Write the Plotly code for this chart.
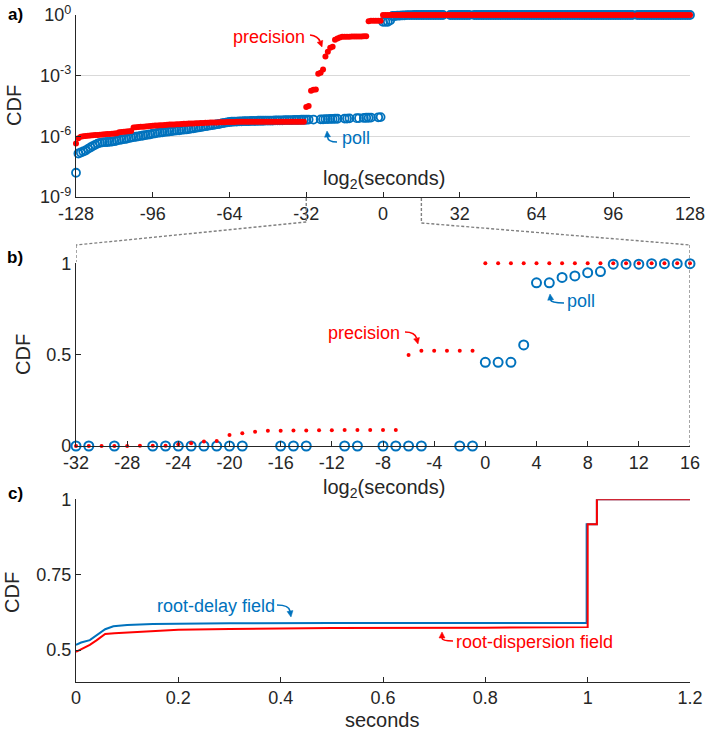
import plotly.graph_objects as go

# ---- panels a/b: CDF of log2(seconds), stored as log10(CDF) ----
poll_exp = [
    -128, -127, -126, -125, -124, -123, -122, -121, -120, -119, -118, -117, -116, -115, -114, -113,
    -112, -111, -110, -109, -108, -107, -106, -105, -104, -103, -102, -101, -100, -99, -98, -97,
    -96, -95, -94, -93, -92, -91, -90, -89, -88, -87, -86, -85, -84, -83, -82, -81,
    -80, -79, -78, -77, -76, -75, -74, -73, -72, -71, -70, -69, -68, -67, -66, -65,
    -64, -63, -62, -61, -60, -59, -58, -57, -56, -55, -54, -53, -52, -51, -50, -49,
    -48, -47, -46, -45, -44, -43, -42, -41, -40, -39, -38, -37, -36, -35, -34, -33,
    -32, -31, -29, -26, -25, -24, -23, -22, -21, -20, -19, -16, -15, -14, -11, -10,
    -8, -7, -6, -5, -2, -1,
    0, 1, 2, 3, 4, 5, 6, 7, 8, 9, 10, 11, 12, 13, 14, 15, 16,
    17, 18, 19, 20, 21, 22, 23, 24, 25, 28, 29, 30, 31, 32, 33, 34,
    35, 36, 38, 39, 40, 41, 42, 43, 44, 45, 46, 47, 48, 49, 50, 51,
    52, 53, 54, 55, 56, 57, 58, 59, 60, 61, 62, 63, 64, 65, 66, 67,
    68, 69, 70, 71, 72, 73, 74, 75, 76, 77, 78, 79, 80, 81, 82, 83,
    84, 85, 86, 87, 88, 89, 90, 91, 92, 93, 94, 95, 96, 97, 98, 99,
    100, 101, 102, 103, 104, 106, 107, 108, 109, 110, 111, 112, 113, 114, 115, 116,
    117, 118, 119, 120, 121, 122, 123, 124, 125, 126, 127, 128,
]
poll_log10 = [
    -7.80, -6.85, -6.80, -6.75, -6.70, -6.62, -6.55, -6.48, -6.42, -6.36, -6.32, -6.30, -6.29, -6.28, -6.27, -6.26,
    -6.24, -6.21, -6.18, -6.16, -6.14, -6.12, -6.09, -6.06, -6.04, -6.02, -6.00, -5.98, -5.96, -5.94, -5.92, -5.90,
    -5.87, -5.85, -5.83, -5.81, -5.80, -5.78, -5.77, -5.75, -5.74, -5.72, -5.71, -5.70, -5.68, -5.67, -5.66, -5.64,
    -5.62, -5.60, -5.58, -5.56, -5.54, -5.52, -5.50, -5.48, -5.46, -5.44, -5.42, -5.40, -5.38, -5.35, -5.33, -5.31,
    -5.29, -5.28, -5.27, -5.27, -5.26, -5.26, -5.25, -5.25, -5.25, -5.24, -5.24, -5.24, -5.23, -5.23, -5.23, -5.22,
    -5.22, -5.22, -5.22, -5.21, -5.21, -5.21, -5.21, -5.20, -5.20, -5.20, -5.20, -5.19, -5.19, -5.19, -5.18, -5.18,
    -5.18, -5.17, -5.17, -5.16, -5.16, -5.15, -5.15, -5.14, -5.14, -5.13, -5.13, -5.12, -5.12, -5.11, -5.10, -5.10,
    -5.09, -5.08, -5.08, -5.07, -5.06, -5.05,
    -0.339, -0.339, -0.339, -0.257, -0.049, -0.049, -0.035, -0.031, -0.023, -0.020, -0.002, -0.002, -0.002, -0.001, -0.001, -0.001, -0.001,
    0, 0, 0, 0, 0, 0, 0, 0, 0, 0, 0, 0, 0, 0, 0, 0,
    0, 0, 0, 0, 0, 0, 0, 0, 0, 0, 0, 0, 0, 0, 0, 0,
    0, 0, 0, 0, 0, 0, 0, 0, 0, 0, 0, 0, 0, 0, 0, 0,
    0, 0, 0, 0, 0, 0, 0, 0, 0, 0, 0, 0, 0, 0, 0, 0,
    0, 0, 0, 0, 0, 0, 0, 0, 0, 0, 0, 0, 0, 0, 0, 0,
    0, 0, 0, 0, 0, 0, 0, 0, 0, 0, 0, 0, 0, 0, 0, 0,
    0, 0, 0, 0, 0, 0, 0, 0, 0, 0, 0, 0,
]

prec_exp = [
    -128, -127, -126, -125, -124, -123, -122, -121, -120, -119, -118, -117, -116, -115, -114, -113,
    -112, -111, -110, -109, -108, -107, -106, -105, -104, -103, -102, -101, -100, -99, -98, -97,
    -96, -95, -94, -93, -92, -91, -90, -89, -88, -87, -86, -85, -84, -83, -82, -81,
    -80, -79, -78, -77, -76, -75, -74, -73, -72, -71, -70, -69, -68, -67, -66, -65,
    -64, -63, -62, -61, -60, -59, -58, -57, -56, -55, -54, -53, -52, -51, -50, -49,
    -48, -47, -46, -45, -44, -43, -42, -41, -40, -39, -38, -37, -36, -35, -34, -33,
    -32, -31, -30, -29, -28, -27, -26, -25, -24, -23, -22, -21, -20, -19, -18, -17,
    -16, -15, -14, -13, -12, -11, -10, -9, -8, -7, -6, -5, -4, -3, -2, -1,
    0, 1, 2, 3, 4, 5, 6, 7, 8, 9, 10, 11, 12, 13, 14, 15,
    16, 17, 18, 19, 20, 21, 22, 23, 24, 25, 26, 27, 28, 29, 30, 31,
    32, 33, 34, 35, 36, 37, 38, 39, 40, 41, 42, 43, 44, 45, 46, 47,
    48, 49, 50, 51, 52, 53, 54, 55, 56, 57, 58, 59, 60, 61, 62, 63,
    64, 65, 66, 67, 68, 69, 70, 71, 72, 73, 74, 75, 76, 77, 78, 79,
    80, 81, 82, 83, 84, 85, 86, 87, 88, 89, 90, 91, 92, 93, 94, 95,
    96, 97, 98, 99, 100, 101, 102, 103, 104, 106, 107, 108, 109, 110, 111, 112,
    113, 114, 115, 116, 117, 118, 119, 120, 121, 122, 123, 124, 125, 126, 127, 128,
]
prec_log10 = [
    -6.35, -6.10, -6.02, -6.00, -5.98, -5.97, -5.96, -5.95, -5.94, -5.93, -5.92, -5.91, -5.90, -5.89, -5.88, -5.87,
    -5.86, -5.85, -5.80, -5.78, -5.77, -5.76, -5.75, -5.74, -5.56, -5.55, -5.54, -5.53, -5.52, -5.51, -5.50, -5.49,
    -5.48, -5.47, -5.46, -5.45, -5.45, -5.44, -5.43, -5.42, -5.42, -5.41, -5.40, -5.40, -5.39, -5.38, -5.38, -5.37,
    -5.36, -5.36, -5.35, -5.35, -5.34, -5.34, -5.33, -5.33, -5.32, -5.32, -5.31, -5.31, -5.30, -5.30, -5.30, -5.29,
    -5.29, -5.29, -5.29, -5.28, -5.28, -5.28, -5.28, -5.28, -5.28, -5.28, -5.28, -5.28, -5.28, -5.28, -5.28, -5.28,
    -5.28, -5.28, -5.28, -5.28, -5.28, -5.28, -5.28, -5.28, -5.28, -5.28, -5.28, -5.28, -5.28, -5.28, -5.28, -5.28,
    -4.55, -4.50, -3.75, -3.70, -3.68, -2.90, -2.85, -2.70, -2.05, -1.82, -1.62, -1.57, -1.22, -1.16, -1.11, -1.08,
    -1.075, -1.07, -1.07, -1.065, -1.065, -1.06, -1.06, -1.06, -1.055, -1.055, -0.303, -0.283, -0.283, -0.283, -0.283, -0.283,
    0, 0, 0, 0, 0, 0, 0, 0, 0, 0, 0, 0, 0, 0, 0, 0,
    0, 0, 0, 0, 0, 0, 0, 0, 0, 0, 0, 0, 0, 0, 0, 0,
    0, 0, 0, 0, 0, 0, 0, 0, 0, 0, 0, 0, 0, 0, 0, 0,
    0, 0, 0, 0, 0, 0, 0, 0, 0, 0, 0, 0, 0, 0, 0, 0,
    0, 0, 0, 0, 0, 0, 0, 0, 0, 0, 0, 0, 0, 0, 0, 0,
    0, 0, 0, 0, 0, 0, 0, 0, 0, 0, 0, 0, 0, 0, 0, 0,
    0, 0, 0, 0, 0, 0, 0, 0, 0, 0, 0, 0, 0, 0, 0, 0,
    0, 0, 0, 0, 0, 0, 0, 0, 0, 0, 0, 0, 0, 0, 0, 0,
]
assert len(poll_exp) == len(poll_log10)
assert len(prec_exp) == len(prec_log10)

# ---- panel c: CDF of root-delay / root-dispersion (seconds) ----
delay_s = [0, 0.01, 0.027, 0.04, 0.057, 0.073, 0.1, 0.15, 0.2, 0.3, 0.5, 0.7, 0.998, 0.998, 1.018, 1.018, 1.2]
delay_cdf = [0.517, 0.525, 0.533, 0.548, 0.569, 0.579, 0.583, 0.586, 0.587, 0.589, 0.590, 0.590, 0.590, 0.917, 0.917, 1.0, 1.0]
disp_s = [0, 0.01, 0.027, 0.04, 0.057, 0.075, 0.1, 0.15, 0.2, 0.3, 0.5, 0.8, 0.96, 1.0, 1.0, 1.018, 1.018, 1.2]
disp_cdf = [0.494, 0.503, 0.517, 0.532, 0.553, 0.556, 0.558, 0.563, 0.567, 0.570, 0.573, 0.574, 0.575, 0.576, 0.917, 0.917, 1.0, 1.0]

a_ticks = [-128, -96, -64, -32, 0, 32, 64, 96, 128]
b_ticks = [-32, -28, -24, -20, -16, -12, -8, -4, 0, 4, 8, 12, 16]
c_ticks = [0, 0.2, 0.4, 0.6, 0.8, 1.0, 1.2]

W, H = 710, 733
BLUE = "#0072BD"
RED = "#FF0000"
AX = "#262626"
FONT = "Liberation Sans, Arial, sans-serif"


def px(x):
    return x / W


def py(y):
    return 1 - y / H


XDOM = [px(76), px(690)]

fig = go.Figure()

# panel a
fig.add_trace(go.Scatter(x=poll_exp, y=[10 ** v for v in poll_log10], mode="markers",
                         marker=dict(symbol="circle-open", size=8, color=BLUE, line=dict(width=1.8)),
                         xaxis="x", yaxis="y", cliponaxis=False, showlegend=False))
fig.add_trace(go.Scatter(x=prec_exp, y=[10 ** v for v in prec_log10], mode="markers",
                         marker=dict(symbol="circle", size=6, color=RED),
                         xaxis="x", yaxis="y", cliponaxis=False, showlegend=False))

# panel b (zoom of a, linear)
b_poll = [(e, 10 ** v) for e, v in zip(poll_exp, poll_log10) if -32 <= e <= 16]
b_prec = [(e, 10 ** v) for e, v in zip(prec_exp, prec_log10) if -32 <= e <= 16]
fig.add_trace(go.Scatter(x=[p[0] for p in b_poll], y=[p[1] for p in b_poll], mode="markers",
                         marker=dict(symbol="circle-open", size=9, color=BLUE, line=dict(width=2)),
                         xaxis="x2", yaxis="y2", cliponaxis=False, showlegend=False))
fig.add_trace(go.Scatter(x=[p[0] for p in b_prec], y=[p[1] for p in b_prec], mode="markers",
                         marker=dict(symbol="circle", size=4, color=RED),
                         xaxis="x2", yaxis="y2", cliponaxis=False, showlegend=False))

# panel c
fig.add_trace(go.Scatter(x=delay_s, y=delay_cdf, mode="lines", line=dict(color=BLUE, width=2),
                         xaxis="x3", yaxis="y3", showlegend=False))
fig.add_trace(go.Scatter(x=disp_s, y=disp_cdf, mode="lines", line=dict(color=RED, width=2),
                         xaxis="x3", yaxis="y3", showlegend=False))


def axis(**kw):
    d = dict(showline=True, linecolor=AX, linewidth=1.3, ticks="inside", ticklen=5,
             tickwidth=1.3, tickcolor=AX, showgrid=False, zeroline=False, automargin=False,
             tickfont=dict(size=18, color=AX, family=FONT), fixedrange=True)
    d.update(kw)
    return d


fig.update_layout(
    width=W, height=H, margin=dict(l=0, r=0, t=0, b=0, autoexpand=False),
    paper_bgcolor="white", plot_bgcolor="white",
    font=dict(family=FONT, color=AX),
    xaxis=axis(domain=XDOM, anchor="y", range=[-128, 128], tickvals=a_ticks,
               ticktext=[str(t) for t in a_ticks]),
    yaxis=axis(domain=[py(197), py(15)], anchor="x", type="log", range=[-9, 0],
               tickvals=[1e-9, 1e-6, 1e-3, 1],
               ticktext=["10<sup>-9</sup>", "10<sup>-6</sup>", "10<sup>-3</sup>", "10<sup>0</sup>"],
               showgrid=True, gridcolor="#d9d9d9", gridwidth=1.3),
    xaxis2=axis(domain=XDOM, anchor="y2", range=[-32, 16], tickvals=b_ticks,
                ticktext=[str(t) for t in b_ticks]),
    yaxis2=axis(domain=[py(446), py(263.3)], anchor="x2", range=[0, 1],
                tickvals=[0, 0.5, 1], ticktext=["0", "0.5", "1"]),
    xaxis3=axis(domain=XDOM, anchor="y3", range=[0, 1.2], tickvals=c_ticks,
                ticktext=["0", "0.2", "0.4", "0.6", "0.8", "1", "1.2"]),
    yaxis3=axis(domain=[py(681.7), py(499.3)], anchor="x3", range=[0.395, 1],
                tickvals=[0.5, 0.75, 1], ticktext=["0.5", "0.75", "1"]),
)

ann = []
shapes = []


def text(x, y, s, color=AX, size=18, angle=0):
    ann.append(dict(x=px(x), y=py(y), xref="paper", yref="paper", text=s, showarrow=False,
                    textangle=angle, xanchor="center", yanchor="middle",
                    font=dict(family=FONT, size=size, color=color)))


def curved_arrow(x0, y0, cx, cy, x1, y1, color):
    # hand-drawn style: quadratic curve plus a filled triangular head at (x1, y1)
    dx, dy = x1 - cx, y1 - cy
    n = (dx * dx + dy * dy) ** 0.5
    ux, uy = dx / n, dy / n
    bx, by = x1 - 6 * ux, y1 - 6 * uy
    shapes.append(dict(type="path", xref="paper", yref="paper",
                       path=f"M {px(x0)},{py(y0)} Q {px(cx)},{py(cy)} {px(bx)},{py(by)}",
                       line=dict(color=color, width=1.6)))
    lx, ly = bx - 3 * uy, by + 3 * ux
    rx, ry = bx + 3 * uy, by - 3 * ux
    shapes.append(dict(type="path", xref="paper", yref="paper",
                       path=f"M {px(x1)},{py(y1)} L {px(lx)},{py(ly)} L {px(rx)},{py(ry)} Z",
                       fillcolor=color, line=dict(color=color, width=0.5)))


# axis titles and panel letters
text(384, 180, "log<sub>2</sub>(seconds)", size=20)
text(384, 488, "log<sub>2</sub>(seconds)", size=20)
text(383, 720, "seconds", size=20)
text(14, 106, "CDF", size=20, angle=-90)
text(23, 355, "CDF", size=20, angle=-90)
text(12, 592, "CDF", size=20, angle=-90)
text(15, 15, "<b>a)</b>", size=17, color="black")
text(15, 257, "<b>b)</b>", size=17, color="black")
text(15, 493, "<b>c)</b>", size=17, color="black")

# series labels
text(269, 37, "precision", RED)
curved_arrow(310, 35, 318, 36, 322, 47, RED)
text(356, 138, "poll", BLUE)
curved_arrow(337, 142, 328, 142, 327, 131, BLUE)
text(364, 333, "precision", RED)
curved_arrow(405, 332, 415, 332, 418, 344, RED)
text(581, 301, "poll", BLUE)
curved_arrow(564, 303, 551, 303, 550, 294, BLUE)
text(216, 606, "root-delay field", BLUE)
curved_arrow(277, 605, 289, 605, 291, 617, BLUE)
text(534, 642, "root-dispersion field", RED)
curved_arrow(453, 641, 442, 641, 442, 632, RED)

# dotted connectors from panel a range [-32, 16] to panel b
dot = dict(color="#808080", width=1.4, dash="3px,2px")
shapes += [
    dict(type="line", xref="x", yref="paper", x0=-32, x1=-32, y0=py(198), y1=py(222), line=dot),
    dict(type="line", xref="x", yref="paper", x0=-32, x1=-128, y0=py(222), y1=py(245), line=dot),
    dict(type="line", xref="x", yref="paper", x0=16, x1=16, y0=py(198), y1=py(223), line=dot),
    dict(type="line", xref="x", yref="paper", x0=16, x1=128, y0=py(223), y1=py(245), line=dot),
    dict(type="line", xref="x2", yref="paper", x0=-32, x1=-32, y0=py(245), y1=py(262), line=dot),
    dict(type="line", xref="x2", yref="paper", x0=16, x1=16, y0=py(245), y1=py(446), line=dot),
]

fig.update_layout(annotations=ann, shapes=shapes)
# drop the browser's default body margin so the figure fills the window exactly
fig.write_html("out.html", config=dict(displayModeBar=False),
               post_script="document.body.style.margin='0';")
